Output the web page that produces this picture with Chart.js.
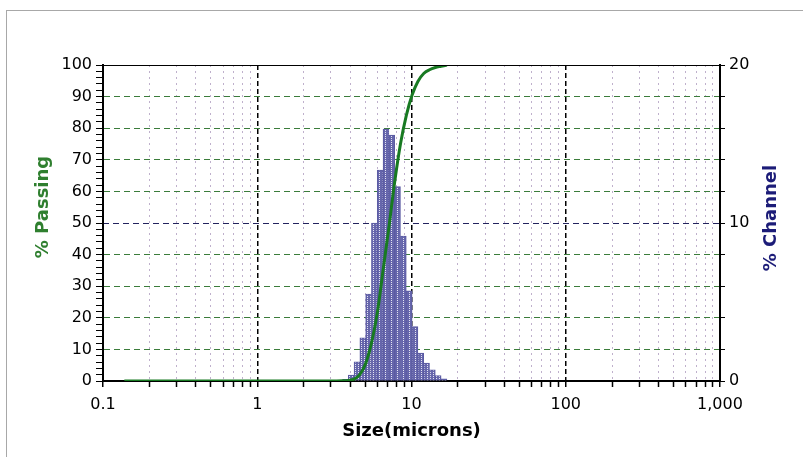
<!DOCTYPE html>
<html>
<head>
<meta charset="utf-8">
<script src="https://cdn.jsdelivr.net/npm/chart.js@4.4.1/dist/chart.umd.min.js"></script>
<style>
    html, body { margin: 0; padding: 0; background: #fff; }
    #wrap { position: relative; width: 803px; height: 457px; overflow: hidden; }
    #frame { position: absolute; left: 6px; top: 10px; width: 900px; height: 600px;
             border-left: 1px solid #a8a8a8; border-top: 1px solid #a8a8a8; }
    #psd { position: absolute; left: 0; top: 0; }
</style>
</head>
<body>
<div id="wrap">
    <div id="frame"></div>
    <canvas id="psd" width="803" height="457"></canvas>
</div>
<script>
    // channel mid sizes (microns) and % in channel
    var channelSizes = [3.73, 4.06, 4.43, 4.83, 5.27, 5.74, 6.26, 6.83, 7.45, 8.12, 8.86, 9.66, 10.54, 11.49, 12.53, 13.66, 14.90, 16.25];
    var channelPct = [0.1, 0.38, 1.22, 2.74, 5.5, 10.0, 13.35, 15.95, 15.57, 12.3, 9.18, 5.7, 3.44, 1.77, 1.14, 0.7, 0.34, 0.13];

    // cumulative % passing
    var passSizes = [0.1375, 3.27, 3.57, 3.89, 4.24, 4.62, 5.04, 5.50, 6.00, 6.54, 7.13, 7.78, 8.48, 9.25, 10.09, 11.00, 12.00, 13.08, 14.27, 15.56, 16.97];
    var passPct = [0, 0, 0.05, 0.2, 0.6, 2.0, 5.5, 12.0, 21.5, 35.0, 48.5, 63.0, 75.0, 84.0, 90.5, 94.8, 97.3, 98.5, 99.2, 99.6, 100];

    // tick labels
    var xMajor = [0.1, 1, 10, 100, 1000];
    var xLabels = ['0.1', '1', '10', '100', '1,000'];
    var passLabels = [0, 10, 20, 30, 40, 50, 60, 70, 80, 90, 100];
    var chanLabels = [0, 10, 20];

    var tickFont = { family: 'DejaVu Sans', size: 16 };

    var canvas = document.getElementById('psd');
    var ctx = canvas.getContext('2d');

    // dotted fill like the original histogram
    var pc = document.createElement('canvas');
    pc.width = 3; pc.height = 2;
    var p = pc.getContext('2d');
    p.fillStyle = '#6666ac';
    p.fillRect(0, 0, 3, 2);
    p.fillStyle = '#e4e4f2';
    p.fillRect(1, 0, 1, 1);
    var barFill = ctx.createPattern(pc, 'repeat');

    var xTicks = [];
    for (var d = 0; d < xMajor.length - 1; d++) {
        for (var m = 1; m < 10; m++) xTicks.push(xMajor[d] * m);
    }
    xTicks.push(xMajor[xMajor.length - 1]);

    var isMajor = function (v) { return xMajor.indexOf(v) >= 0; };

    var framePlugin = {
        id: 'frame',
        afterDraw: function (chart) {
            var c = chart.ctx, a = chart.chartArea;
            c.save();
            c.strokeStyle = '#000';
            c.lineWidth = 1;
            c.beginPath();
            c.moveTo(a.left, a.top + 0.5);
            c.lineTo(a.right, a.top + 0.5);
            c.stroke();

            c.font = 'bold 18px "DejaVu Sans"';
            c.textAlign = 'center';
            c.textBaseline = 'middle';
            c.fillStyle = '#000';
            c.fillText('Size(microns)', (a.left + a.right) / 2, 431);

            c.save();
            c.translate(43, 207);
            c.rotate(-Math.PI / 2);
            c.fillStyle = '#2f7f2f';
            c.fillText('% Passing', 0, 0);
            c.restore();

            c.save();
            c.translate(771, 218);
            c.rotate(-Math.PI / 2);
            c.fillStyle = '#1c1c78';
            c.fillText('% Channel', 0, 0);
            c.restore();
            c.restore();
        }
    };

    new Chart(ctx, {
        type: 'bar',
        data: {
            datasets: [
                {
                    type: 'line',
                    label: '% Passing',
                    data: passSizes.map(function (s, i) { return { x: s, y: passPct[i] }; }),
                    yAxisID: 'yPass',
                    borderColor: '#187a22',
                    borderWidth: 3,
                    pointRadius: 0,
                    fill: false,
                    cubicInterpolationMode: 'monotone',
                    order: 1
                },
                {
                    type: 'bar',
                    label: '% Channel',
                    data: channelSizes.map(function (s, i) { return { x: s, y: channelPct[i] }; }),
                    yAxisID: 'yChan',
                    backgroundColor: barFill,
                    borderColor: '#5a5aa2',
                    borderWidth: 1,
                    barThickness: 'flex',
                    categoryPercentage: 1,
                    barPercentage: 1,
                    order: 2
                }
            ]
        },
        options: {
            responsive: false,
            animation: false,
            layout: { padding: { top: 65, left: 0, right: 0, bottom: 0 } },
            plugins: { legend: { display: false }, tooltip: { enabled: false } },
            scales: {
                x: {
                    type: 'logarithmic',
                    min: 0.1,
                    max: 1000,
                    offset: false,
                    afterBuildTicks: function (scale) {
                        scale.ticks = xTicks.map(function (v) { return { value: v, major: isMajor(v) }; });
                    },
                    afterFit: function (scale) { scale.height = 76; },
                    ticks: {
                        autoSkip: false,
                        maxRotation: 0,
                        padding: 8,
                        color: '#000',
                        font: tickFont,
                        callback: function (v) {
                            var k = xMajor.indexOf(v);
                            return k >= 0 ? xLabels[k] : '';
                        }
                    },
                    grid: {
                        offset: false,
                        color: function (c) { return c.tick && c.tick.major ? '#000' : '#bfb0cc'; },
                        lineWidth: function (c) { return c.tick && c.tick.major ? 1.5 : 1; },
                        tickColor: '#000',
                        tickWidth: 1.5,
                        tickLength: 6
                    },
                    border: {
                        color: '#000',
                        width: 2,
                        dash: function (c) { return c.tick && c.tick.major ? [5, 3] : [2, 4]; }
                    }
                },
                yPass: {
                    type: 'linear',
                    position: 'left',
                    min: 0,
                    max: 100,
                    afterBuildTicks: function (scale) {
                        var t = [];
                        for (var v = 0; v <= 100; v += 2) t.push({ value: v });
                        scale.ticks = t;
                    },
                    afterFit: function (scale) { scale.width = 103; },
                    ticks: {
                        autoSkip: false,
                        padding: 4,
                        color: '#000',
                        font: tickFont,
                        callback: function (v) { return passLabels.indexOf(v) >= 0 ? String(v) : ''; }
                    },
                    grid: {
                        color: function (c) {
                            var v = c.tick ? c.tick.value : -1;
                            return (v % 10 === 0 && v > 0 && v < 100 && v !== 50) ? '#3b7c3b' : 'rgba(0,0,0,0)';
                        },
                        lineWidth: 1,
                        tickColor: '#000',
                        tickWidth: 1,
                        tickLength: 7
                    },
                    border: { color: '#000', width: 2, dash: [6, 4] }
                },
                yChan: {
                    type: 'linear',
                    position: 'right',
                    min: 0,
                    max: 20,
                    afterBuildTicks: function (scale) {
                        var t = [];
                        for (var v = 0; v <= 20; v += 2) t.push({ value: v });
                        scale.ticks = t;
                    },
                    afterFit: function (scale) { scale.width = 83; },
                    ticks: {
                        autoSkip: false,
                        padding: 4,
                        color: '#000',
                        font: tickFont,
                        callback: function (v) { return chanLabels.indexOf(v) >= 0 ? String(v) : ''; }
                    },
                    grid: {
                        color: function (c) { return c.tick && c.tick.value === 10 ? '#23235e' : 'rgba(0,0,0,0)'; },
                        lineWidth: 1,
                        tickColor: '#000',
                        tickWidth: 1,
                        tickLength: 5
                    },
                    border: { color: '#000', width: 2, dash: [6, 4] }
                }
            }
        },
        plugins: [framePlugin]
    });
</script>
</body>
</html>
